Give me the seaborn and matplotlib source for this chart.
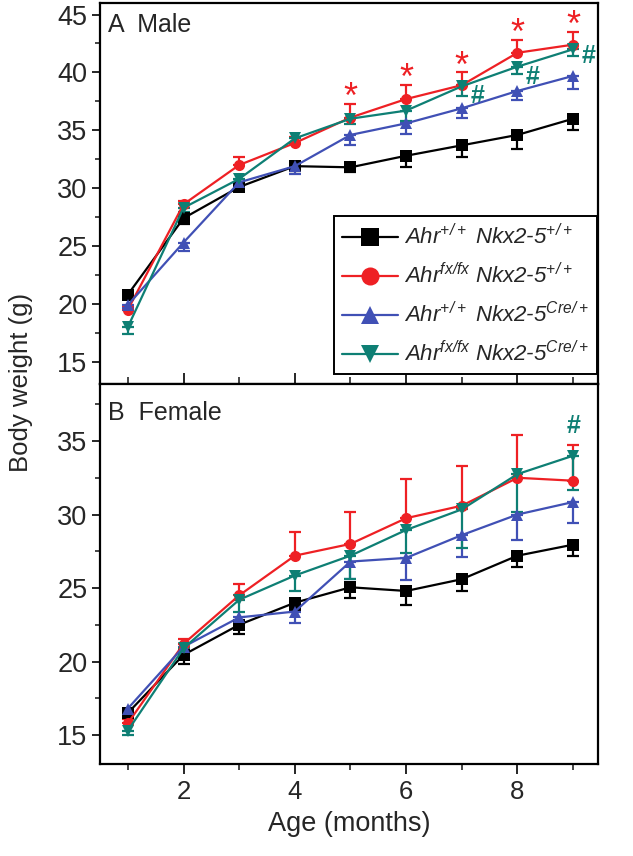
import numpy as np
import pandas as pd
import matplotlib
matplotlib.use("Agg")
import matplotlib.pyplot as plt
from matplotlib.ticker import MultipleLocator
import seaborn as sns

# ---------------------------------------------------------------------------
# Data
# ---------------------------------------------------------------------------
months = [1, 2, 3, 4, 5, 6, 7, 8, 9]

genotypes = [
    "Ahr$^{+/+}$ Nkx2-5$^{+/+}$",
    "Ahr$^{fx/fx}$ Nkx2-5$^{+/+}$",
    "Ahr$^{+/+}$ Nkx2-5$^{Cre/+}$",
    "Ahr$^{fx/fx}$ Nkx2-5$^{Cre/+}$",
]

# male
male_wt = [20.8, 27.4, 30.1, 31.9, 31.8, 32.8, 33.7, 34.6, 36.0]
male_fx = [19.5, 28.6, 32.0, 33.9, 36.1, 37.7, 38.9, 41.7, 42.4]
male_cre = [19.9, 25.3, 30.5, 31.9, 34.6, 35.6, 36.9, 38.4, 39.7]
male_fxcre = [18.0, 28.3, 30.8, 34.3, 36.0, 36.7, 38.8, 40.5, 42.0]

male_wt_err = [0.3, 0.5, 0.3, 0.4, 0.4, 1.0, 1.0, 1.2, 1.0]
male_fx_err = [0.3, 0.3, 0.7, 0.5, 1.15, 1.2, 1.1, 1.1, 1.1]
male_cre_err = [0.3, 0.7, 0.3, 0.7, 0.9, 0.9, 0.85, 0.8, 1.1]
male_fxcre_err = [0.6, 0.4, 0.5, 0.4, 0.5, 0.9, 0.8, 0.6, 0.6]

# female
female_wt = [16.5, 20.45, 22.5, 24.0, 25.05, 24.8, 25.6, 27.2, 27.95]
female_fx = [15.8, 21.2, 24.5, 27.2, 28.0, 29.75, 30.6, 32.5, 32.3]
female_cre = [16.8, 21.0, 23.0, 23.4, 26.8, 27.05, 28.6, 30.0, 30.85]
female_fxcre = [15.3, 20.9, 24.2, 25.85, 27.2, 28.95, 30.35, 32.75, 34.0]

female_wt_err = [0.3, 0.6, 0.6, 0.5, 0.75, 0.95, 0.8, 0.75, 0.8]
female_fx_err = [0.3, 0.3, 0.8, 1.6, 2.2, 2.7, 2.7, 2.9, 2.45]
female_cre_err = [0.3, 0.3, 0.5, 0.8, 1.2, 1.5, 1.5, 1.7, 1.45]
female_fxcre_err = [0.3, 0.3, 0.8, 1.05, 1.6, 1.6, 2.65, 2.6, 2.3]

# significance marks
star_months_male = [5, 6, 7, 8, 9]
hash_months_male = [7, 8, 9]
hash_y_male = [38.0, 39.6, 41.4]
hash_months_female = [9]
hash_y_female = [36.0]

colors = ["#000000", "#ee2024", "#4050b5", "#0e7f74"]
markers = ["s", "o", "^", "v"]
err_up = [False, True, False, False]   # red bars go up, the rest go down

# ---------------------------------------------------------------------------
# Figure
# ---------------------------------------------------------------------------
sns.set_style("ticks")
plt.rcParams["font.family"] = ["Liberation Sans", "DejaVu Sans"]
plt.rcParams["mathtext.default"] = "regular"

fig, (ax1, ax2) = plt.subplots(2, 1, figsize=(6.33, 8.56), dpi=100, sharex=True)
fig.subplots_adjust(left=0.158, right=0.945, top=0.9965, bottom=0.107, hspace=0)


def draw_panel(ax, means, errs):
    df = pd.DataFrame({
        "month": np.tile(months, len(genotypes)),
        "weight": np.concatenate(means),
        "genotype": np.repeat(genotypes, len(months)),
    })
    for i, g in enumerate(genotypes):
        e = np.array(errs[i])
        zero = np.zeros_like(e)
        yerr = [zero, e] if err_up[i] else [e, zero]
        ax.errorbar(months, means[i], yerr=yerr, fmt="none", ecolor=colors[i],
                    elinewidth=1.6, capsize=4, capthick=1.6, zorder=2 + i)
    sns.lineplot(data=df, x="month", y="weight", hue="genotype", style="genotype",
                 hue_order=genotypes, style_order=genotypes,
                 palette=colors, markers=markers, dashes=False,
                 markersize=8, markeredgewidth=0, linewidth=1.6,
                 ax=ax, legend=True, zorder=5)


draw_panel(ax1, [male_wt, male_fx, male_cre, male_fxcre],
           [male_wt_err, male_fx_err, male_cre_err, male_fxcre_err])
draw_panel(ax2, [female_wt, female_fx, female_cre, female_fxcre],
           [female_wt_err, female_fx_err, female_cre_err, female_fxcre_err])

# significance annotations
for m in star_months_male:
    k = months.index(m)
    ax1.text(m, male_fx[k] + male_fx_err[k] - 0.35, "*", color=colors[1],
             fontsize=26, ha="center", va="baseline")
for m, y in zip(hash_months_male, hash_y_male):
    ax1.text(m + 0.28, y, "#", color=colors[3], fontsize=18,
             fontweight="bold", ha="center", va="center")
for m, y in zip(hash_months_female, hash_y_female):
    ax2.text(m, y, "#", color=colors[3], fontsize=18,
             fontweight="bold", ha="center", va="center")

# legend only in the top panel
ax2.get_legend().remove()
handles, labels = ax1.get_legend_handles_labels()
for h in handles:
    h.set_markersize(13)
ax1.legend(handles, labels, loc="lower right", bbox_to_anchor=(0.998, 0.025),
           frameon=True, fancybox=False, edgecolor="black", framealpha=1,
           prop={"style": "italic", "size": 16}, handlelength=2.5,
           handletextpad=0.3, labelspacing=0.62, borderpad=0.35,
           borderaxespad=0.0)
ax1.get_legend().get_frame().set_linewidth(1.4)

# axes styling
ax1.set_ylim(13.1, 46.0)
ax2.set_ylim(13.0, 38.9)
ax2.set_xlim(0.5, 9.45)
for ax in (ax1, ax2):
    ax.yaxis.set_major_locator(MultipleLocator(5))
    ax.yaxis.set_minor_locator(MultipleLocator(2.5))
    ax.xaxis.set_major_locator(MultipleLocator(2))
    ax.xaxis.set_minor_locator(MultipleLocator(1))
    ax.set_xlabel("")
    ax.set_ylabel("")
    for s in ax.spines.values():
        s.set_visible(True)
        s.set_linewidth(1.6)
        s.set_color("black")
    ax.tick_params(axis="y", which="major", direction="out", length=6, width=1.4,
                   labelsize=19.5, pad=3)
    ax.tick_params(axis="y", which="minor", direction="out", length=3.5, width=1.2)
    ax.tick_params(right=False, top=False, which="both")

ax1.tick_params(axis="x", which="major", direction="in", length=8, width=1.4,
                labelbottom=False)
ax1.tick_params(axis="x", which="minor", direction="in", length=5, width=1.2)
ax2.tick_params(axis="x", which="major", direction="out", length=7, width=1.4,
                labelsize=18.5, pad=4)
ax2.tick_params(axis="x", which="minor", direction="out", length=4, width=1.2)

ax2.set_xlabel("Age (months)", fontsize=19.5, labelpad=5)
fig.text(0.033, 0.553, "Body weight (g)", rotation=90, fontsize=18.5,
         ha="center", va="center")

ax1.text(0.016, 0.975, "A  Male", transform=ax1.transAxes, fontsize=18,
         ha="left", va="top")
ax2.text(0.016, 0.955, "B  Female", transform=ax2.transAxes, fontsize=18,
         ha="left", va="top")

plt.savefig("out.png", dpi=100)
